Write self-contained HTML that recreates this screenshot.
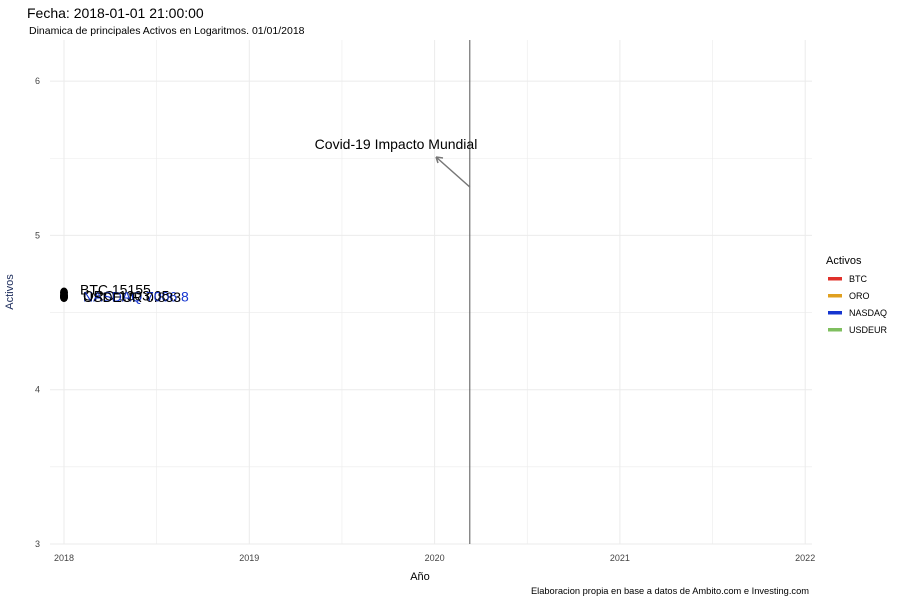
<!DOCTYPE html>
<html><head><meta charset="utf-8"><style>
body{margin:0;background:#fff;font-family:"Liberation Sans",sans-serif}
svg text{font-family:"Liberation Sans",sans-serif}
</style></head><body>
<svg width="900" height="600">
<g id="grid"></g>
<g id="marks"></g>
<text x="27" y="18" font-size="14" fill="#000">Fecha: 2018-01-01 21:00:00</text>
<text x="29" y="34" font-size="10.5" fill="#000">Dinamica de principales Activos en Logaritmos.  01/01/2018</text>
<text x="420" y="580" font-size="11" text-anchor="middle">Año</text>
<text x="13" y="292" font-size="11" fill="#1a2a5a" text-anchor="middle" transform="rotate(-90 13 292)">Activos</text>
<text x="809" y="594" font-size="9.3" text-anchor="end">Elaboracion propia en base a datos de Ambito.com e Investing.com</text>
<g id="legend">
<text x="826" y="264" font-size="11">Activos</text>
</g>
</svg>
<script>
const series=["BTC","ORO","NASDAQ","USDEUR"];
const colors=["#e0302a","#e0a020","#1535d0","#7fbf5f"];
const xVals=[2018.0,2018.0,2018.0,2018.0];
const yVals=[4.63,4.61,4.605,4.60];
const labels=["BTC 15155","ORO 1303.05","NASDAQ 7006.8","USDEUR 0.833"];
const xTicks=[2018,2019,2020,2021,2022];
const yTicks=[3,4,5,6];
const eventX=2020.19;
const ns="http://www.w3.org/2000/svg";
const X=v=>64+(v-2018)*185.3;
const Y=v=>544-(v-3)*154.3;
const L=50,R=812,T=40,B=544;
function mk(t,a,p){const e=document.createElementNS(ns,t);for(const k in a)e.setAttribute(k,a[k]);p.appendChild(e);return e;}
const g=document.getElementById('grid');
for(let v=2017.5;v<=2022;v+=0.5){const x=X(v);if(x<L||x>R)continue;
const l=mk('line',{x1:x,x2:x,y1:T,y2:B,stroke:'#ebebeb','stroke-width':v%1?0.6:1},g);
}
for(let v=3;v<=6.2;v+=0.5){const y=Y(v);
const l=mk('line',{x1:L,x2:R,y1:y,y2:y,stroke:'#ebebeb','stroke-width':v%1?0.6:1},g);
}
xTicks.forEach(v=>{const t=mk('text',{x:X(v),y:561,'font-size':9,'text-anchor':'middle',fill:'#444'},g);t.textContent=v;
});
yTicks.forEach(v=>{const t=mk('text',{x:40,y:Y(v)+3,'font-size':9,'text-anchor':'end',fill:'#444'},g);t.textContent=v;
});
const m=document.getElementById('marks');
const vl=mk('line',{x1:X(eventX),x2:X(eventX),y1:T,y2:B,stroke:'#555','stroke-width':1},m);

const ar=mk('path',{d:`M${X(eventX)} 187 L436 157 M436 157 l7 1 M436 157 l2 6`,stroke:'#777','stroke-width':1.5,fill:'none'},m);

const at=mk('text',{x:396,y:149,'font-size':14,'text-anchor':'middle'},m);at.textContent='Covid-19 Impacto Mundial';

series.forEach((s,i)=>{
const c=mk('ellipse',{cx:X(xVals[i]),cy:Y(yVals[i]),rx:4,ry:5,fill:'#000'},m);

const t=mk('text',{x:X(xVals[i])+16+(i?3:0),y:Y(yVals[i])+(i?5:2),'font-size':14,fill:i==2?colors[i]:'#000'},m);t.textContent=labels[i];

});
const lg=document.getElementById('legend');
series.forEach((s,i)=>{const y=279+i*17;
const r=mk('rect',{x:828,y:y-2,width:14,height:3.5,fill:colors[i]},lg);

const t=mk('text',{x:849,y:y+3,'font-size':9},lg);t.textContent=s;
});
</script>
</body></html>
